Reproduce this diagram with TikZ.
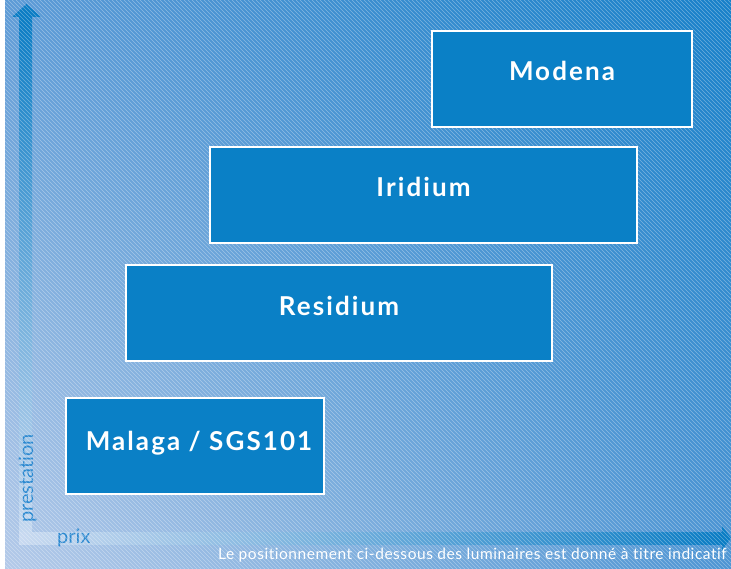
\documentclass[tikz,border=0pt]{standalone}
\usepackage{fontspec}
\setmainfont{Lato}[Ligatures=NoCommon]
\newfontfamily\boxfont{Lato}[LetterSpace=8, Ligatures=NoCommon]
\newfontfamily\notefont{Lato}[LetterSpace=3.5, Ligatures=NoCommon]
\usetikzlibrary{positioning,shadings}

\definecolor{bgtl}{HTML}{5D9BD6}
\definecolor{bgtr}{HTML}{1780C9}
\definecolor{bgbl}{HTML}{B4CAE9}
\definecolor{bgbr}{HTML}{4E95D3}
\definecolor{boxblue}{HTML}{0A80C6}
\definecolor{axisblue}{HTML}{0A7CC4}
\definecolor{axislight}{HTML}{C8D9F0}
\definecolor{axistext}{HTML}{2A88D0}

\begin{document}
\begin{tikzpicture}[
  x=1pt, y=-1pt,
  box/.style={draw=white, line width=2pt, fill=boxblue, minimum height=96pt,
              inner sep=0pt},
  lbl/.style={text=white, inner sep=0pt,
              font=\boxfont\bfseries\fontsize{26}{30}\selectfont},
  axlbl/.style={text=axistext, inner sep=0pt, font=\fontsize{20}{24}\selectfont},
  hatch/.style={draw=white, line width=0.5pt, opacity=0.35},
]
\useasboundingbox (0,0) rectangle (731,569);

% ---------------- background ----------------
\shade[upper left=bgtl, upper right=bgtr, lower left=bgbl, lower right=bgbr]
  (5,1) rectangle (731,569);

% ---------------- axes ----------------
\shade[top color=axisblue, bottom color=axislight] (19,17) rectangle (32,544);
\shade[left color=axislight, right color=axisblue] (19,532) rectangle (722,544);
\fill[axisblue] (12,17) -- (41,17) -- (26.5,4) -- cycle;
\fill[axisblue] (722,526) -- (722,550) -- (731,538) -- cycle;

% ---------------- axis labels ----------------
\node[axlbl, anchor=base west, rotate=90] (prest) at (33,523) {prestation};
\node[axlbl, anchor=base west] (prix) at (57,543) {prix};
\node[text=white, inner sep=0pt, anchor=base east,
      font=\notefont\fontsize{15.5}{18}\selectfont] (note) at (727,559)
  {Le positionnement ci-dessous des luminaires est donné à titre indicatif};

% ---------------- hatching ----------------
\begin{scope}
  \clip (5,1) rectangle (731,569);
  \foreach \k in {-572,-568,...,731}
    \draw[hatch] (\k,0) -- ++(569,569);
\end{scope}

% ---------------- products ----------------
\node[box, minimum width=260pt] (modena) at (562,79) {};
\node[lbl, anchor=base] (modenatxt) at ([yshift=-2pt]modena.center) {Modena};

\node[box, minimum width=427pt] (iridium) at (423.5,195.5) {};
\node[lbl, anchor=base] (iridiumtxt) at ([yshift=-1pt]iridium.center) {Iridium};

\node[box, minimum width=426pt] (residium) at (339,313) {};
\node[lbl, anchor=base] (residiumtxt) at ([yshift=-3pt]residium.center) {Residium};

\node[box, minimum width=258pt] (malaga) at (195,446) {};
\node[lbl, anchor=base] (malagatxt) at ([xshift=4pt,yshift=-4pt]malaga.center)
  {Malaga / SGS101};

\end{tikzpicture}
\end{document}
